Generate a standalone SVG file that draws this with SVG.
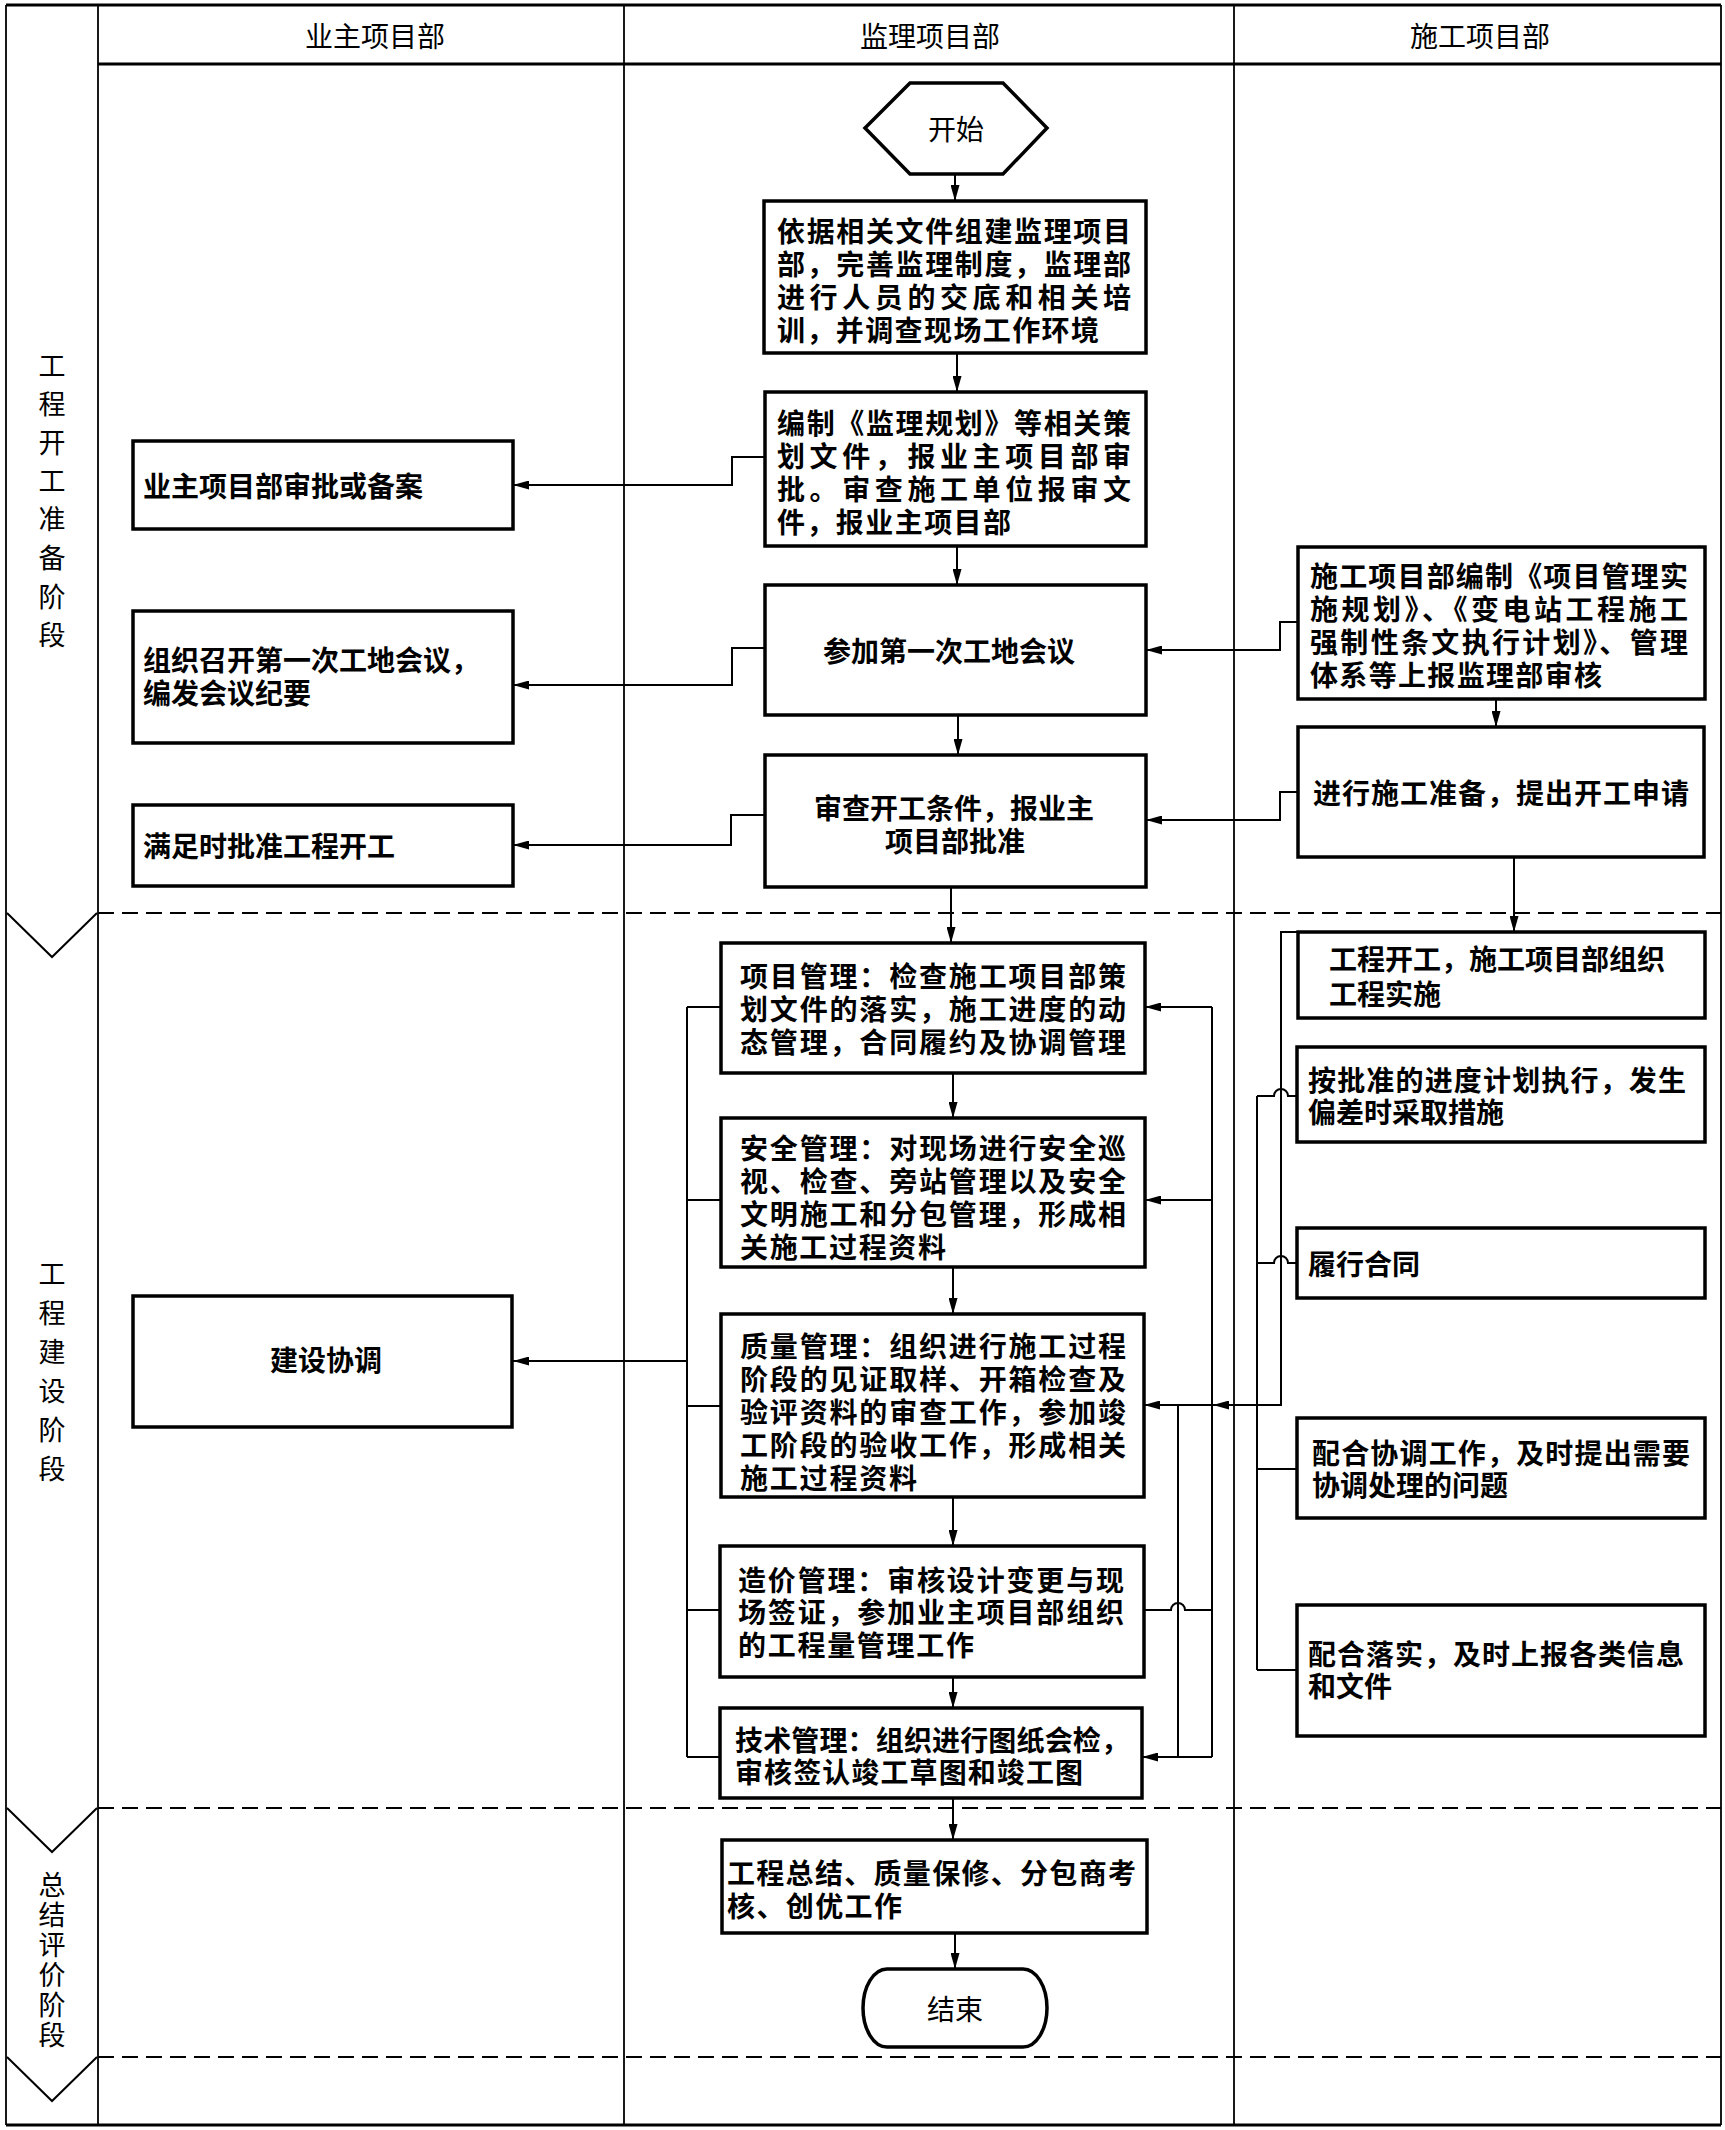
<svg xmlns="http://www.w3.org/2000/svg" width="1725" height="2130" viewBox="0 0 1725 2130">
<style>
.frame{fill:none;stroke:#000;stroke-width:1.8}
.thick{fill:none;stroke:#000;stroke-width:3}
.dash{fill:none;stroke:#000;stroke-width:2;stroke-dasharray:16 8}
.box{fill:#fff;stroke:#000;stroke-width:3.5}
.conn{fill:none;stroke:#000;stroke-width:2}
.arr{marker-end:url(#ah)}
text{font-family:"Noto Sans CJK SC","Noto Sans",sans-serif;fill:#000;dominant-baseline:central}
.hd{font-size:28px}
.ph{font-size:27px}
.bt{font-size:28px;font-weight:bold}
.tt{font-size:28px}
</style>
<defs>
<marker id="ah" markerUnits="userSpaceOnUse" markerWidth="16" markerHeight="9" refX="16" refY="4.5" orient="auto">
<path d="M0,0 L16,4.5 L0,9 Z" fill="#000"/>
</marker>
</defs>
<rect width="1725" height="2130" fill="#fff"/>

<g id="frame">
<line class="thick" x1="6" y1="5" x2="1721" y2="5"/>
<line class="thick" x1="6" y1="2125" x2="1721" y2="2125"/>
<line class="frame" x1="6" y1="5" x2="6" y2="2125"/>
<line class="frame" x1="1721" y1="5" x2="1721" y2="2125"/>
<line class="frame" x1="98" y1="5" x2="98" y2="2125"/>
<line class="frame" x1="624" y1="5" x2="624" y2="2125"/>
<line class="frame" x1="1234" y1="5" x2="1234" y2="2125"/>
<line class="thick" x1="98" y1="64" x2="1721" y2="64"/>
<line class="dash" x1="98" y1="913" x2="1721" y2="913"/>
<line class="dash" x1="98" y1="1808" x2="1721" y2="1808"/>
<line class="dash" x1="98" y1="2057" x2="1721" y2="2057"/>
<polyline class="conn" points="7,913 52,957 97,913"/>
<polyline class="conn" points="7,1808 52,1852 97,1808"/>
<polyline class="conn" points="7,2057 52,2101 97,2057"/>
</g>

<g id="headers">
<text class="hd" x="375" y="35" text-anchor="middle">业主项目部</text>
<text class="hd" x="930" y="35" text-anchor="middle">监理项目部</text>
<text class="hd" x="1480" y="35" text-anchor="middle">施工项目部</text>
</g>

<g id="phases">
<text class="ph" text-anchor="middle"><tspan x="52" y="364">工</tspan><tspan x="52" y="402">程</tspan><tspan x="52" y="441">开</tspan><tspan x="52" y="479">工</tspan><tspan x="52" y="517">准</tspan><tspan x="52" y="556">备</tspan><tspan x="52" y="595">阶</tspan><tspan x="52" y="633">段</tspan></text>
<text class="ph" text-anchor="middle"><tspan x="52" y="1272">工</tspan><tspan x="52" y="1311">程</tspan><tspan x="52" y="1350">建</tspan><tspan x="52" y="1389">设</tspan><tspan x="52" y="1428">阶</tspan><tspan x="52" y="1467">段</tspan></text>
<text class="ph" text-anchor="middle"><tspan x="52" y="1883">总</tspan><tspan x="52" y="1913">结</tspan><tspan x="52" y="1943">评</tspan><tspan x="52" y="1973">价</tspan><tspan x="52" y="2003">阶</tspan><tspan x="52" y="2033">段</tspan></text>
</g>

<g id="connectors">
<path class="conn arr" d="M955 174 V201"/>
<path class="conn arr" d="M957 353 V392"/>
<path class="conn arr" d="M957 546 V585"/>
<path class="conn arr" d="M958 715 V755"/>
<path class="conn arr" d="M951 887 V943"/>
<path class="conn arr" d="M953 1073 V1118"/>
<path class="conn arr" d="M953 1267 V1314"/>
<path class="conn arr" d="M953 1497 V1546"/>
<path class="conn arr" d="M953 1677 V1708"/>
<path class="conn arr" d="M953 1798 V1840"/>
<path class="conn arr" d="M955 1933 V1969"/>
<path class="conn arr" d="M766 457 H732 V485 H513"/>
<path class="conn arr" d="M765 648 H732 V685 H513"/>
<path class="conn arr" d="M765 815 H731 V845 H513"/>
<path class="conn arr" d="M1298 622 H1280 V650 H1146"/>
<path class="conn arr" d="M1298 792 H1280 V820 H1146"/>
<path class="conn arr" d="M1496 699 V727"/>
<path class="conn arr" d="M1514 857 V932"/>
<path class="conn" d="M687 1007 V1757 M687 1007 H721 M687 1200 H721 M687 1406 H721 M687 1610 H720 M687 1757 H720"/>
<path class="conn arr" d="M687 1361 H513"/>
<path class="conn" d="M1212 1007 V1757 M1178 1405 V1757"/>
<path class="conn arr" d="M1212 1007 H1145"/>
<path class="conn arr" d="M1212 1200 H1145"/>
<path class="conn arr" d="M1212 1405 H1144"/>
<path class="conn arr" d="M1212 1757 H1142"/>
<path class="conn" d="M1144 1610 H1171 A7 7 0 0 1 1185 1610 H1212"/>
<path class="conn arr" d="M1297 932 H1281 V1405 H1213"/>
<path class="conn" d="M1257 1096 V1670"/>
<path class="conn" d="M1257 1096 H1274 A7 7 0 0 1 1288 1096 H1297"/>
<path class="conn" d="M1257 1263 H1274 A7 7 0 0 1 1288 1263 H1297"/>
<path class="conn" d="M1257 1469 H1297 M1257 1670 H1297"/>
</g>

<g id="start">
<polygon class="box" points="865,128 910,83 1003,83 1047,128 1003,174 910,174"/>
<text class="tt" x="956" y="128" text-anchor="middle">开始</text>
</g>

<g id="s1">
<rect class="box" x="764" y="201" width="382" height="152"/>
<text class="bt" lengthAdjust="spacing"><tspan x="777" y="230" textLength="354">依据相关文件组建监理项目</tspan><tspan x="777" y="263" textLength="354">部，完善监理制度，监理部</tspan><tspan x="777" y="296" textLength="354">进行人员的交底和相关培</tspan><tspan x="777" y="329" textLength="322">训，并调查现场工作环境</tspan></text>
</g>

<g id="s2">
<rect class="box" x="765" y="392" width="381" height="154"/>
<text class="bt" lengthAdjust="spacing"><tspan x="777" y="422" textLength="354">编制《监理规划》等相关策</tspan><tspan x="777" y="455" textLength="354">划文件，报业主项目部审</tspan><tspan x="777" y="488" textLength="354">批。审查施工单位报审文</tspan><tspan x="777" y="521" textLength="234">件，报业主项目部</tspan></text>
</g>

<g id="s3">
<rect class="box" x="765" y="585" width="381" height="130"/>
<text class="bt" x="949" y="650" text-anchor="middle">参加第一次工地会议</text>
</g>

<g id="s4">
<rect class="box" x="765" y="755" width="381" height="132"/>
<text class="bt" text-anchor="middle"><tspan x="954" y="807">审查开工条件，报业主</tspan><tspan x="955" y="840">项目部批准</tspan></text>
</g>

<g id="o1">
<rect class="box" x="133" y="441" width="380" height="88"/>
<text class="bt" x="143" y="485">业主项目部审批或备案</text>
</g>

<g id="o2">
<rect class="box" x="133" y="611" width="380" height="132"/>
<text class="bt"><tspan x="143" y="659">组织召开第一次工地会议，</tspan><tspan x="143" y="692">编发会议纪要</tspan></text>
</g>

<g id="o3">
<rect class="box" x="133" y="805" width="380" height="81"/>
<text class="bt" x="143" y="845">满足时批准工程开工</text>
</g>

<g id="o4">
<rect class="box" x="133" y="1296" width="379" height="131"/>
<text class="bt" x="326" y="1359" text-anchor="middle">建设协调</text>
</g>

<g id="c1">
<rect class="box" x="1298" y="547" width="407" height="152"/>
<text class="bt" lengthAdjust="spacing"><tspan x="1310" y="575" textLength="378">施工项目部编制《项目管理实</tspan><tspan x="1310" y="608" textLength="378">施规划》、《变电站工程施工</tspan><tspan x="1310" y="641" textLength="378">强制性条文执行计划》、管理</tspan><tspan x="1310" y="674" textLength="292">体系等上报监理部审核</tspan></text>
</g>

<g id="c2">
<rect class="box" x="1298" y="727" width="406" height="130"/>
<text class="bt" x="1313" y="792" textLength="376" lengthAdjust="spacing">进行施工准备，提出开工申请</text>
</g>

<g id="c3">
<rect class="box" x="1298" y="932" width="407" height="86"/>
<text class="bt"><tspan x="1329" y="958">工程开工，施工项目部组织</tspan><tspan x="1329" y="993">工程实施</tspan></text>
</g>

<g id="c4">
<rect class="box" x="1297" y="1047" width="408" height="95"/>
<text class="bt"><tspan x="1308" y="1079" textLength="378" lengthAdjust="spacing">按批准的进度计划执行，发生</tspan><tspan x="1308" y="1111">偏差时采取措施</tspan></text>
</g>

<g id="c5">
<rect class="box" x="1297" y="1228" width="408" height="70"/>
<text class="bt" x="1308" y="1263">履行合同</text>
</g>

<g id="c6">
<rect class="box" x="1297" y="1418" width="408" height="100"/>
<text class="bt"><tspan x="1312" y="1452" textLength="378" lengthAdjust="spacing">配合协调工作，及时提出需要</tspan><tspan x="1312" y="1484">协调处理的问题</tspan></text>
</g>

<g id="c7">
<rect class="box" x="1297" y="1605" width="408" height="131"/>
<text class="bt"><tspan x="1308" y="1653" textLength="376" lengthAdjust="spacing">配合落实，及时上报各类信息</tspan><tspan x="1308" y="1685">和文件</tspan></text>
</g>

<g id="s5">
<rect class="box" x="721" y="943" width="424" height="130"/>
<text class="bt" lengthAdjust="spacing"><tspan x="740" y="975" textLength="386">项目管理：检查施工项目部策</tspan><tspan x="740" y="1008" textLength="386">划文件的落实，施工进度的动</tspan><tspan x="740" y="1041" textLength="386">态管理，合同履约及协调管理</tspan></text>
</g>

<g id="s6">
<rect class="box" x="721" y="1118" width="424" height="149"/>
<text class="bt" lengthAdjust="spacing"><tspan x="740" y="1147" textLength="386">安全管理：对现场进行安全巡</tspan><tspan x="740" y="1180" textLength="386">视、检查、旁站管理以及安全</tspan><tspan x="740" y="1213" textLength="386">文明施工和分包管理，形成相</tspan><tspan x="740" y="1246" textLength="206">关施工过程资料</tspan></text>
</g>

<g id="s7">
<rect class="box" x="721" y="1314" width="423" height="183"/>
<text class="bt" lengthAdjust="spacing"><tspan x="740" y="1345" textLength="386">质量管理：组织进行施工过程</tspan><tspan x="740" y="1378" textLength="386">阶段的见证取样、开箱检查及</tspan><tspan x="740" y="1411" textLength="386">验评资料的审查工作，参加竣</tspan><tspan x="740" y="1444" textLength="386">工阶段的验收工作，形成相关</tspan><tspan x="740" y="1477" textLength="177">施工过程资料</tspan></text>
</g>

<g id="s8">
<rect class="box" x="720" y="1546" width="424" height="131"/>
<text class="bt" lengthAdjust="spacing"><tspan x="738" y="1579" textLength="386">造价管理：审核设计变更与现</tspan><tspan x="738" y="1611" textLength="386">场签证，参加业主项目部组织</tspan><tspan x="738" y="1644" textLength="236">的工程量管理工作</tspan></text>
</g>

<g id="s9">
<rect class="box" x="720" y="1708" width="422" height="90"/>
<text class="bt" lengthAdjust="spacing"><tspan x="735" y="1739" textLength="394">技术管理：组织进行图纸会检，</tspan><tspan x="735" y="1771" textLength="348">审核签认竣工草图和竣工图</tspan></text>
</g>

<g id="s10">
<rect class="box" x="722" y="1840" width="425" height="93"/>
<text class="bt" lengthAdjust="spacing"><tspan x="727" y="1872" textLength="409">工程总结、质量保修、分包商考</tspan><tspan x="727" y="1905" textLength="175">核、创优工作</tspan></text>
</g>

<g id="end">
<path class="box" d="M887 1969 H1023 A24 39 0 0 1 1023 2047 H887 A24 39 0 0 1 887 1969 Z"/>
<text class="tt" x="955" y="2008" text-anchor="middle">结束</text>
</g>
</svg>
